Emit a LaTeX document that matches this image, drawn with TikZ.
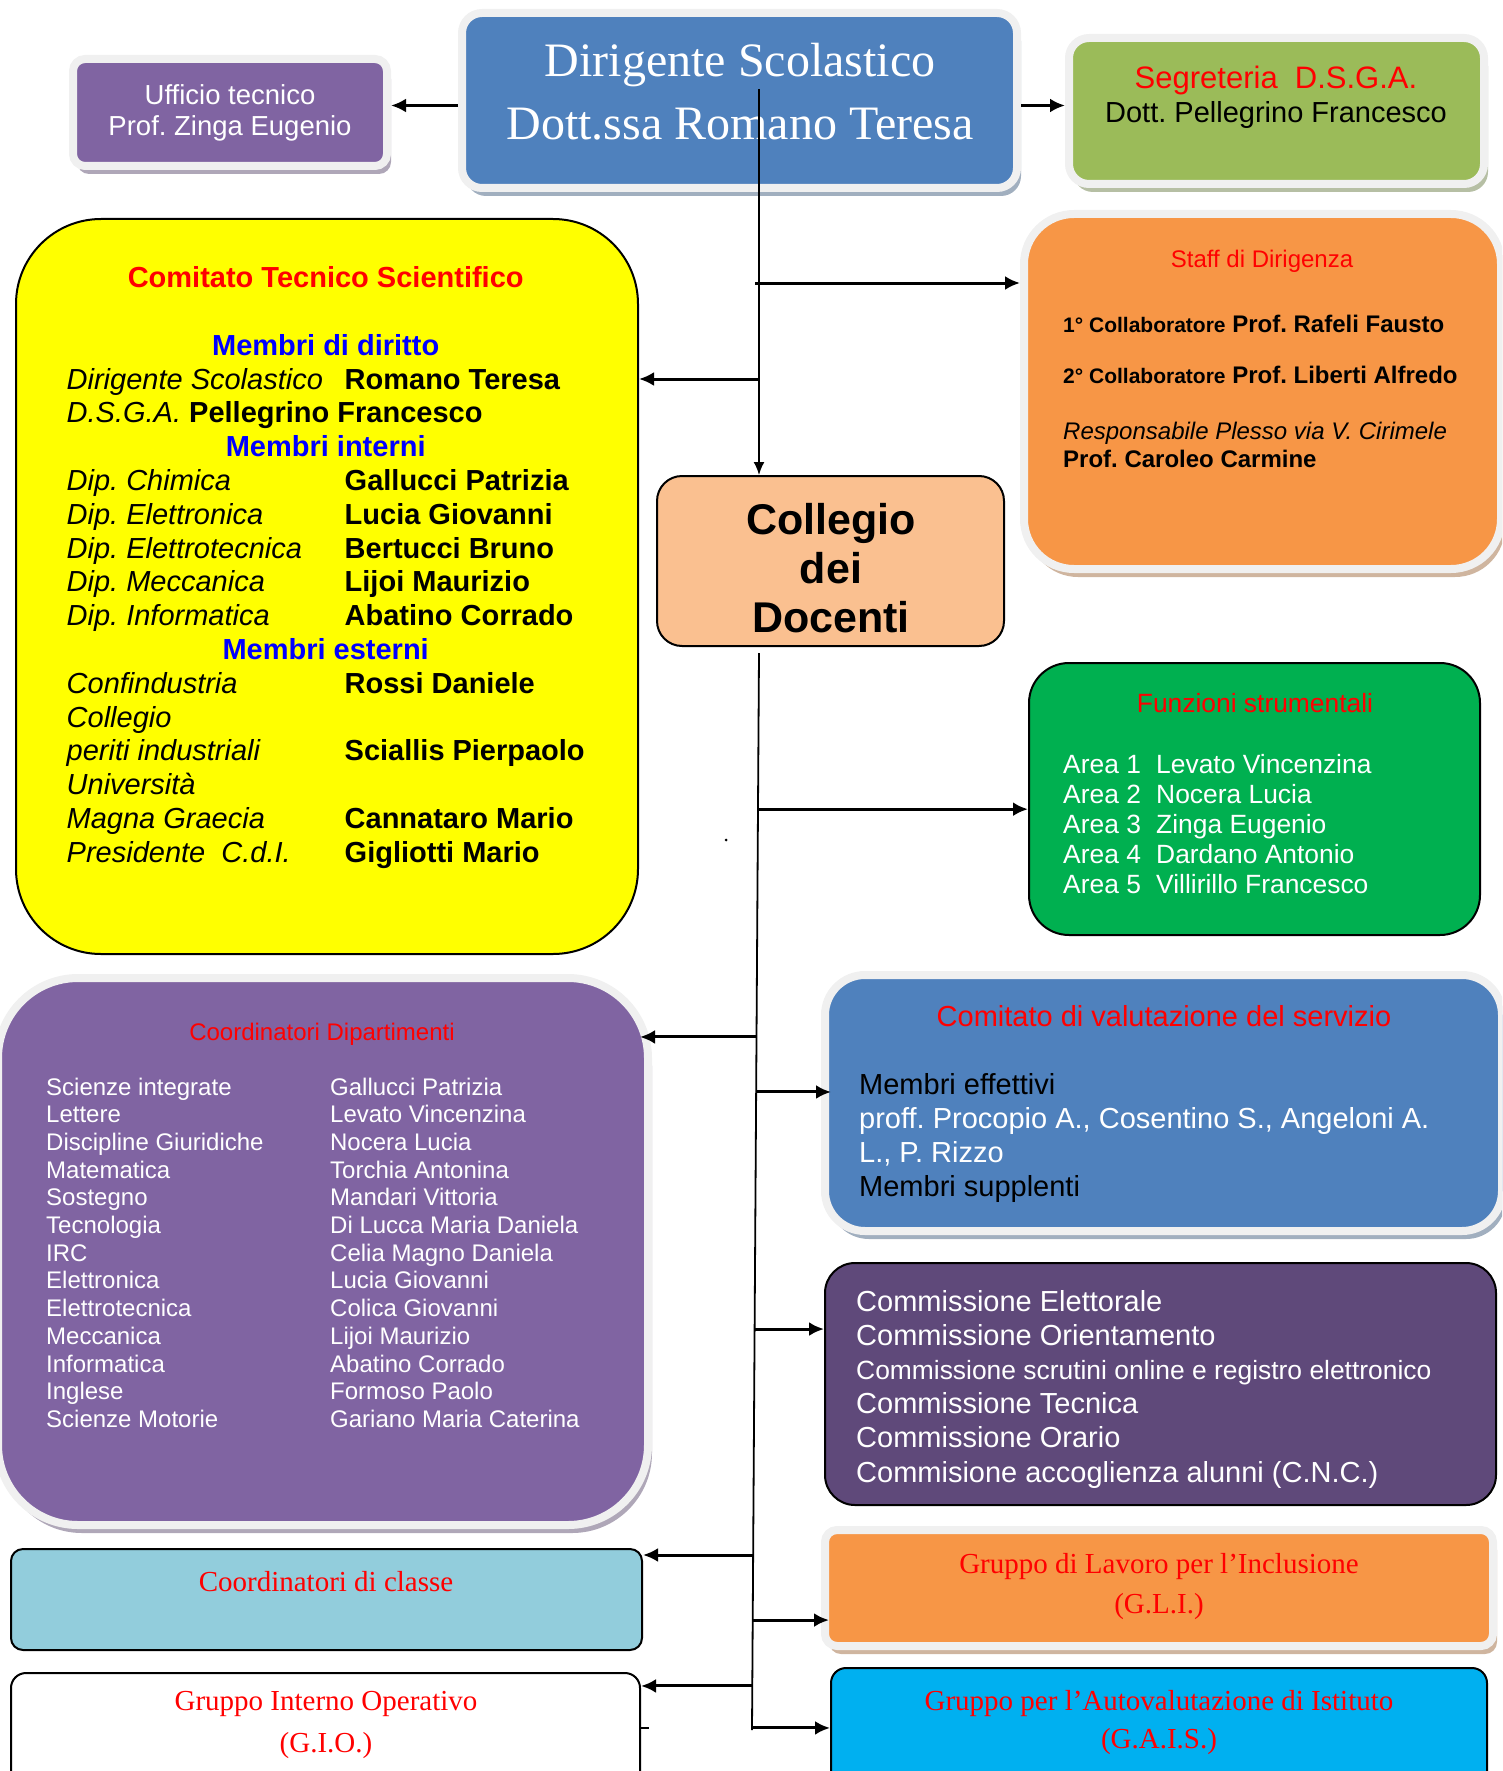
\documentclass[tikz,border=0pt]{standalone}
\usepackage{fontspec}
\setmainfont{Liberation Sans}
\newfontfamily\tnr{Liberation Serif}
\usetikzlibrary{
  arrows.meta,
  shadows,      % Style "general shadow"
  calc,         % Calculations $...$
}
\frenchspacing
\newcommand{\fsz}[2]{\fontsize{#1}{#2}\selectfont}
\definecolor{dirblue}{RGB}{79,129,189}
\definecolor{ufpurple}{RGB}{128,100,162}
\definecolor{segreen}{RGB}{155,187,89}
\definecolor{orangeacc}{RGB}{247,150,70}
\definecolor{ctsyellow}{RGB}{255,255,0}
\definecolor{collpeach}{RGB}{250,192,144}
\definecolor{funzgreen}{RGB}{0,176,80}
\definecolor{commpurple}{RGB}{95,73,122}
\definecolor{clsblue}{RGB}{146,205,220}
\definecolor{gaiscyan}{RGB}{0,176,240}
\definecolor{glowgray}{RGB}{240,240,240}
\tikzset{
  my glow/.style={
    draw=glowgray,
    line width=8pt,
    general shadow={fill=#1!60!black, opacity=.45,
      shadow xshift=4pt, shadow yshift=-8pt}
  },
  my frame/.style={
    draw=black,
    line width=2pt
  },
  my text/.style={
    inner sep=0pt,
    anchor=base west
  },
  my title/.style={
    inner sep=0pt,
    anchor=base
  },
  my arrow/.style={
    -{Latex[length=15pt,width=14pt]},
    line width=3pt
  },
  trunk/.style={
    line width=1.8pt
  }
}

\begin{document}
\begin{tikzpicture}[x=1pt,y=-1pt]
\useasboundingbox (0,0) rectangle (1502,1771);
\clip (0,0) rectangle (1502,1771);

\node[my glow=dirblue,fill=dirblue,rounded corners=20pt,minimum width=555pt,minimum height=175pt] (dir) at (739.5,100.5) {};
\node[my glow=ufpurple,fill=ufpurple,rounded corners=12pt,minimum width=314pt,minimum height=107pt] (uff) at (230,112.5) {};
\node[my glow=segreen,fill=segreen,rounded corners=20pt,minimum width=415pt,minimum height=146pt] (seg) at (1276.5,111) {};
\node[my glow=orangeacc,fill=orangeacc,rounded corners=50pt,minimum width=477pt,minimum height=355pt] (staff) at (1262.5,391.5) {};
\node[my frame,fill=ctsyellow,rounded corners=85pt,minimum width=622pt,minimum height=735pt] (cts) at (327,586.5) {};
\node[my frame,fill=collpeach,rounded corners=25pt,minimum width=347pt,minimum height=170pt] (coll) at (830.5,561) {};
\node[my frame,fill=funzgreen,rounded corners=40pt,minimum width=451pt,minimum height=272pt] (funz) at (1254.5,799) {};
\node[my glow=ufpurple,fill=ufpurple,rounded corners=80pt,minimum width=650pt,minimum height=547pt] (dip) at (323,1251.5) {};
\node[my glow=dirblue,fill=dirblue,rounded corners=40pt,minimum width=677pt,minimum height=256pt] (val) at (1163.5,1103) {};
\node[my frame,fill=commpurple,rounded corners=30pt,minimum width=671pt,minimum height=242pt] (comm) at (1160.5,1384) {};
\node[my frame,fill=clsblue,rounded corners=12pt,minimum width=631pt,minimum height=101pt] (cls) at (326.5,1599.5) {};
\node[my frame,fill=white,rounded corners=15pt,minimum width=629pt,minimum height=127pt] (gio) at (325.5,1736.5) {};
\node[my glow=orangeacc,fill=orangeacc,rounded corners=12pt,minimum width=668pt,minimum height=116pt] (gli) at (1159,1588) {};
\node[my frame,fill=gaiscyan,rounded corners=15pt,minimum width=656pt,minimum height=132pt] (gais) at (1159,1734) {};

\node[my title,text=white] (dirtext) at (740,77) {\tnr\fsz{48}{63}%
  \begin{tabular}[t]{@{}c@{}}Dirigente Scolastico\\Dott.ssa Romano Teresa\end{tabular}};
\node[my title,text=white] (ufftext) at (230,105) {\fsz{27.5}{31}%
  \begin{tabular}[t]{@{}c@{}}Ufficio tecnico\\Prof. Zinga Eugenio\end{tabular}};
\node[my title] (segtext) at (1276,89) {\fsz{29}{34}%
  \begin{tabular}[t]{@{}c@{}}{\fsz{31}{34}\color{red}Segreteria\ \ D.S.G.A.}\\Dott. Pellegrino Francesco\end{tabular}};
\node[my title] (colltext) at (831,534) {\bfseries\fsz{43}{49}%
  \begin{tabular}[t]{@{}c@{}}Collegio\\dei\\Docenti\end{tabular}};

\node[my title,text=red] (stafftitle) at (1262,267) {\fsz{24}{28}Staff di Dirigenza};
\node[my text] (stafftext) at (1063,332) {\fsz{24}{28}%
  \begin{tabular}[t]{@{}l@{}}
  \bfseries{\fsz{21}{28}1° Collaboratore} Prof. Rafeli Fausto\\[23pt]
  \bfseries{\fsz{21}{28}2° Collaboratore} Prof. Liberti Alfredo\\[28pt]
  \itshape Responsabile Plesso via V. Cirimele\\
  \bfseries Prof. Caroleo Carmine
  \end{tabular}};

\node[my text] (ctstext) at (66.5,287.6) {\fsz{29}{33.8}%
  \begin{tabular}[t]{@{}p{278pt}@{}p{240pt}@{}}
  \multicolumn{2}{@{}c@{}}{\color{red}\bfseries Comitato Tecnico Scientifico}\\[33.8pt]
  \multicolumn{2}{@{}c@{}}{\color{blue}\bfseries Membri di diritto}\\
  \itshape Dirigente Scolastico & \bfseries Romano Teresa\\
  \multicolumn{2}{@{}l@{}}{\itshape D.S.G.A. \upshape\bfseries Pellegrino Francesco}\\
  \multicolumn{2}{@{}c@{}}{\color{blue}\bfseries Membri interni}\\
  \itshape Dip. Chimica & \bfseries Gallucci Patrizia\\
  \itshape Dip. Elettronica & \bfseries Lucia Giovanni\\
  \itshape Dip. Elettrotecnica & \bfseries Bertucci Bruno\\
  \itshape Dip. Meccanica & \bfseries Lijoi Maurizio\\
  \itshape Dip. Informatica & \bfseries Abatino Corrado\\
  \multicolumn{2}{@{}c@{}}{\color{blue}\bfseries Membri esterni}\\
  \itshape Confindustria & \bfseries Rossi Daniele\\
  \itshape Collegio & \\
  \itshape periti industriali & \bfseries Sciallis Pierpaolo\\
  \itshape Università & \\
  \itshape Magna Graecia & \bfseries Cannataro Mario\\
  \itshape Presidente\ \ C.d.I. & \bfseries Gigliotti Mario
  \end{tabular}};

\node[my title,text=red] (funztitle) at (1255,712) {\fsz{26.4}{30}Funzioni strumentali};
\node[my text,text=white] (funztext) at (1063,773) {\fsz{26.4}{30.2}%
  \begin{tabular}[t]{@{}p{93pt}@{}l@{}}
  Area 1 & Levato Vincenzina\\
  Area 2 & Nocera Lucia\\
  Area 3 & Zinga Eugenio\\
  Area 4 & Dardano Antonio\\
  Area 5 & Villirillo Francesco
  \end{tabular}};

\node[my title,text=red] (diptitle) at (322,1040) {\fsz{24}{27.7}Coordinatori Dipartimenti};
\node[my text,text=white] (diptext) at (46,1095) {\fsz{24}{27.7}%
  \begin{tabular}[t]{@{}p{284pt}@{}l@{}}
  Scienze integrate & Gallucci Patrizia\\
  Lettere & Levato Vincenzina\\
  Discipline Giuridiche & Nocera Lucia\\
  Matematica & Torchia Antonina\\
  Sostegno & Mandari Vittoria\\
  Tecnologia & Di Lucca Maria Daniela\\
  IRC & Celia Magno Daniela\\
  Elettronica & Lucia Giovanni\\
  Elettrotecnica & Colica Giovanni\\
  Meccanica & Lijoi Maurizio\\
  Informatica & Abatino Corrado\\
  Inglese & Formoso Paolo\\
  Scienze Motorie & Gariano Maria Caterina
  \end{tabular}};

\node[my title,text=red] (valtitle) at (1164,1026) {\fsz{29}{34.3}Comitato di valutazione del servizio};
\node[my text] (valtext) at (859,1094) {\fsz{29}{34.3}%
  \begin{tabular}[t]{@{}l@{}}
  Membri effettivi\\
  \color{white}proff. Procopio A., Cosentino S., Angeloni A.\\
  \color{white}L., P. Rizzo\\
  Membri supplenti
  \end{tabular}};

\node[my text,text=white] (commtext) at (856,1311) {\fsz{29}{34.2}%
  \begin{tabular}[t]{@{}l@{}}
  Commissione Elettorale\\
  Commissione Orientamento\\
  {\fsz{26.4}{34.2}Commissione scrutini online e registro elettronico}\\
  Commissione Tecnica\\
  Commissione Orario\\
  Commisione accoglienza alunni (C.N.C.)
  \end{tabular}};

\node[my title,text=red] (clstext) at (326,1591) {\tnr\fsz{29}{40}Coordinatori di classe};
\node[my title,text=red] (giotext) at (326,1710) {\tnr\fsz{29}{42}%
  \begin{tabular}[t]{@{}c@{}}Gruppo Interno Operativo\\(G.I.O.)\end{tabular}};
\node[my title,text=red] (glitext) at (1159,1573) {\tnr\fsz{29}{40}%
  \begin{tabular}[t]{@{}c@{}}Gruppo di Lavoro per l’Inclusione\\(G.L.I.)\end{tabular}};
\node[my title,text=red] (gaistext) at (1159,1710) {\tnr\fsz{29}{38}%
  \begin{tabular}[t]{@{}c@{}}Gruppo per l’Autovalutazione di Istituto\\(G.A.I.S.)\end{tabular}};

\coordinate (t0) at (759,89);
\coordinate (s1) at (755,283);
\coordinate (s2) at (759,379);
\coordinate (b0) at (759,653);
\coordinate (b1) at (752,1730);
\draw[trunk,-{Latex[length=13pt,width=11pt]}] (t0) -- (t0 |- coll.north);
\draw[trunk] (b0) -- (b1);
\draw[my arrow] ([yshift=-5pt]dir.west) -- ([yshift=-5pt]dir.west -| uff.east);
\draw[my arrow] ([yshift=-5pt]dir.east) -- ([yshift=-5pt]dir.east -| seg.west);
\draw[my arrow] (s1) -- (s1 -| staff.west);
\draw[my arrow] (s2) -- (s2 -| cts.east);
\foreach \f/\n in {0.145/funz,0.3565/dip,0.4076/val,0.6277/comm,0.8375/cls,0.8979/gli,0.9591/gio,0.9981/gais}
  \coordinate (k-\n) at ($(b0)!\f!(b1)$);
\foreach \n/\s in {funz/0,val/-10,comm/0,gli/-8,gais/0}
  \draw[my arrow,shorten >=\s pt] (k-\n) -- (k-\n -| \n.west);
\foreach \n/\s in {dip/-12,cls/0,gio/0}
  \draw[my arrow,shorten >=\s pt] (k-\n) -- (k-\n -| \n.east);
\fill (726,840) circle (1.5pt);
\draw[line width=2pt] (640,1728) -- (649,1728);
\end{tikzpicture}
\end{document}
